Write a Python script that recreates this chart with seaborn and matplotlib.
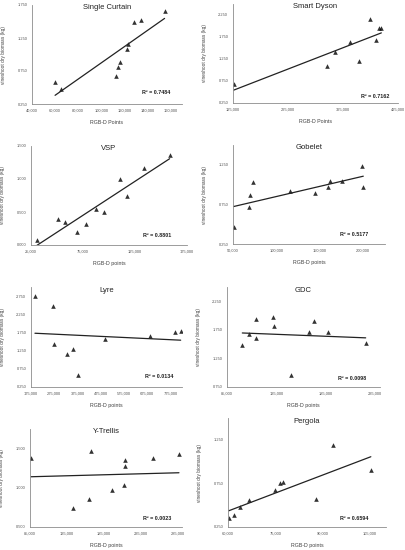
import numpy as np
import pandas as pd
import matplotlib.pyplot as plt
import seaborn as sns
from matplotlib.ticker import FuncFormatter, MultipleLocator

sns.set_style('white')
plt.rcParams['font.family'] = ['Liberation Sans', 'DejaVu Sans']

# Values (RGB-D points vs vineshoot dry biomass)
sc_x = [60000, 65400, 112600, 114300, 116000, 122600, 123100, 128300, 134300, 154900]
sc_y = [0.588, 0.472, 0.674, 0.816, 0.891, 1.083, 1.154, 1.487, 1.523, 1.654]

sd_x = [126200, 295300, 309800, 338300, 354100, 373500, 384400, 389800, 394700]
sd_y = [0.674, 1.098, 1.402, 1.629, 1.197, 2.159, 1.682, 1.955, 1.955]

vsp_x = [30800, 51000, 58000, 69600, 77600, 87600, 95200, 110900, 117300, 133300, 158300]
vsp_y = [0.071, 0.394, 0.348, 0.192, 0.313, 0.551, 0.500, 1.000, 0.747, 1.172, 1.359]

gob_x = [50800, 68300, 69100, 72500, 116000, 144700, 159900, 161500, 176000, 198500, 200000]
gob_y = [0.467, 0.722, 0.871, 1.037, 0.922, 0.888, 0.965, 1.041, 1.041, 1.241, 0.965]

lyre_x = [192000, 267900, 272100, 327900, 357900, 376400, 495000, 687900, 793600, 819300]
lyre_y = [2.750, 2.481, 1.435, 1.167, 1.287, 0.593, 1.565, 1.657, 1.759, 1.778]

gdc_x = [100500, 107000, 114100, 114700, 132000, 132600, 149900, 168400, 173500, 187700, 225500]
gdc_y = [1.479, 1.679, 1.938, 1.615, 1.968, 1.826, 0.962, 1.709, 1.903, 1.709, 1.521]

yt_x = [86400, 143200, 164900, 166700, 195200, 212300, 212800, 212800, 251100, 285900]
yt_y = [1.386, 0.745, 0.863, 1.466, 0.968, 1.040, 1.281, 1.357, 1.378, 1.428]
# the drawn Y-Trellis trendline is flatter than the visible points give, read ends off the picture
yt_trend_y = [1.141, 1.192]

per_x = [60200, 61900, 63800, 66800, 74800, 76300, 77400, 87700, 93100, 105200]
per_y = [0.354, 0.385, 0.481, 0.558, 0.677, 0.754, 0.762, 0.573, 1.185, 0.904]

titles = ['Single Curtain', 'Smart Dyson', 'VSP', 'Gobelet', 'Lyre', 'GDC', 'Y-Trellis', 'Pergola']
r2_labels = ['R² = 0.7484', 'R² = 0.7162', 'R² = 0.8801', 'R² = 0.5177',
             'R² = 0.0134', 'R² = 0.0098', 'R² = 0.0023', 'R² = 0.6594']
xlabels = ['RGB-D Points', 'RGB-D Points'] + ['RGB-D points'] * 6
xs = [sc_x, sd_x, vsp_x, gob_x, lyre_x, gdc_x, yt_x, per_x]
ys = [sc_y, sd_y, vsp_y, gob_y, lyre_y, gdc_y, yt_y, per_y]
trends = [None] * 6 + [yt_trend_y, None]

# axis ranges and tick steps
xlims = [(40000, 170000), (125000, 425000), (25000, 175000), (50000, 225000),
         (175000, 825000), (85000, 240000), (85000, 290000), (60000, 110000)]
xsteps = [20000, 100000, 50000, 50000, 100000, 50000, 50000, 15000]
ylims = [(0.25, 1.75), (0.25, 2.5), (0.0, 1.5), (0.25, 1.5),
         (0.25, 3.0), (0.75, 2.5), (0.5, 1.75), (0.25, 1.5)]
ysteps = [0.5] * 8

# panel boxes in pixels: left, top, right, bottom
boxes = [(32, 5, 182, 104), (233, 4, 398, 103),
         (31, 146, 187, 245), (233, 145, 385, 244),
         (31, 287, 182, 387), (227, 287, 380, 387),
         (30, 429, 182, 527), (228, 418, 386, 527)]
r2_pos = [(0.83, 0.12), (0.86, 0.07), (0.81, 0.10), (0.80, 0.10),
          (0.85, 0.11), (0.82, 0.09), (0.84, 0.09), (0.80, 0.08)]

W, H = 406, 550
fig = plt.figure(figsize=(W / 100, H / 100), dpi=100)
grey = '#8c8c8c'

for i in range(8):
    l, t, r, b = boxes[i]
    ax = fig.add_axes([l / W, 1 - b / H, (r - l) / W, (b - t) / H])
    df = pd.DataFrame({'x': xs[i], 'y': ys[i]})
    sns.regplot(x='x', y='y', data=df, ci=None, marker='^', color='black',
                fit_reg=trends[i] is None,
                scatter_kws={'s': 11, 'linewidths': 0},
                line_kws={'lw': 0.9, 'color': '#222222'}, ax=ax)
    if trends[i] is not None:
        tdf = pd.DataFrame({'x': [min(xs[i]), max(xs[i])], 'y': trends[i]})
        sns.lineplot(x='x', y='y', data=tdf, color='#222222', lw=0.9, ax=ax)
    ax.set_xlim(*xlims[i])
    ax.set_ylim(*ylims[i])
    ax.xaxis.set_major_locator(MultipleLocator(xsteps[i], offset=xlims[i][0] % xsteps[i]))
    ax.yaxis.set_major_locator(MultipleLocator(ysteps[i], offset=ylims[i][0] % ysteps[i]))
    ax.xaxis.set_major_formatter(FuncFormatter(lambda v, p: f'{v:,.0f}'))
    ax.yaxis.set_major_formatter(FuncFormatter(lambda v, p: f'{v:.3f}'))
    ax.tick_params(labelsize=2.9, colors='#555555', length=2, width=0.5, pad=1.5)
    for s in ['top', 'right']:
        ax.spines[s].set_visible(False)
    for s in ['left', 'bottom']:
        ax.spines[s].set_color(grey)
        ax.spines[s].set_linewidth(0.6)
    ax.set_xlabel(xlabels[i], fontsize=3.8, color='#404040')
    ax.set_ylabel('vineshoot dry biomass (kg)', fontsize=3.4, color='#404040')
    hp = b - t
    wp = r - l
    ax.xaxis.set_label_coords(0.5, -16 / hp)
    ax.yaxis.set_label_coords(-26 / wp, 0.5)
    ax.text(0.5, 0.97, titles[i], transform=ax.transAxes, ha='center', va='center',
            fontsize=5.5, color='#222222')
    ax.text(r2_pos[i][0], r2_pos[i][1], r2_labels[i], transform=ax.transAxes,
            ha='center', va='center', fontsize=3.9, fontweight='bold', color='#222222')

fig.savefig('out.png', dpi=100)
